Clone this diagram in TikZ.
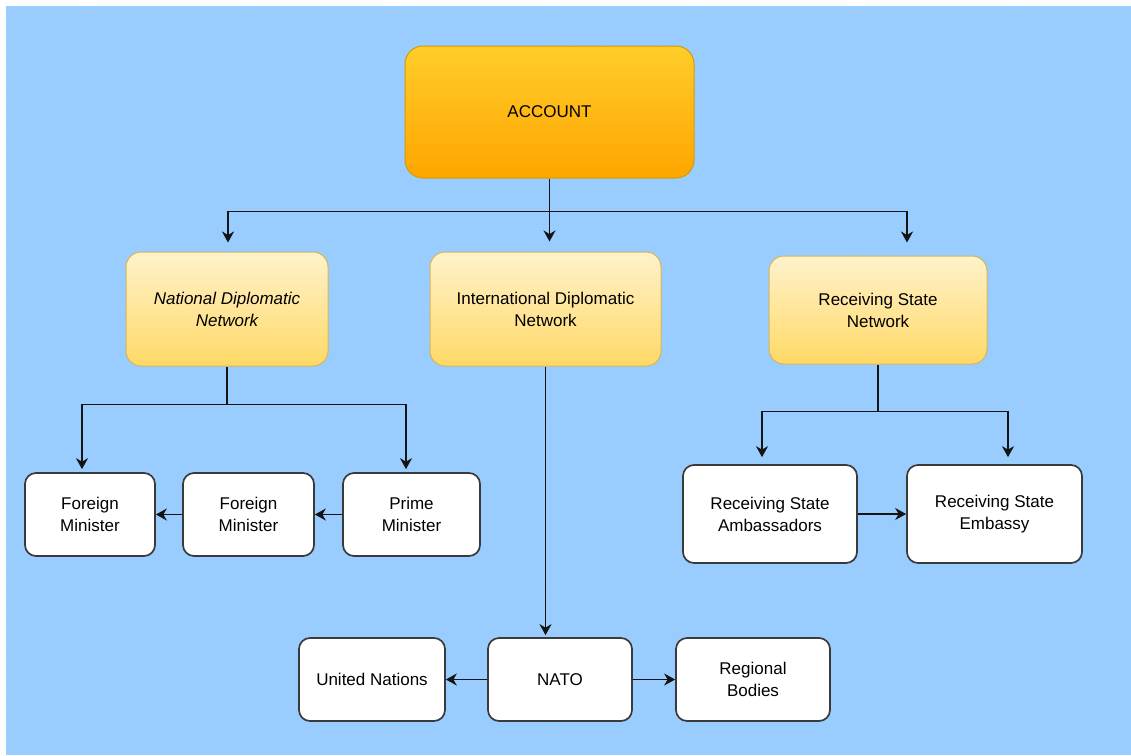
\documentclass[tikz,border=0pt]{standalone}
\usepackage{fontspec}
\setmainfont{Liberation Sans}
\usetikzlibrary{arrows.meta,calc}

\definecolor{canvas}{HTML}{99CCFF}
\definecolor{griddot}{HTML}{AEC6DF}
\definecolor{boxline}{HTML}{3A3A3A}
\definecolor{acctop}{HTML}{FFCD2A}
\definecolor{accbot}{HTML}{FFA500}
\definecolor{accline}{HTML}{D79B00}
\definecolor{nettop}{HTML}{FFF2CC}
\definecolor{netbot}{HTML}{FFD966}
\definecolor{netline}{HTML}{D6B656}
\definecolor{wire}{HTML}{141414}

\begin{document}
\begin{tikzpicture}[x=1pt,y=-1pt,
  every node/.style={font=\fontsize{17}{22}\selectfont, align=center, inner sep=0pt, text=black},
  rootbox/.style={draw=accline, line width=1pt, top color=acctop, bottom color=accbot,
    rounded corners=18pt, minimum width=289pt, minimum height=132pt},
  netbox/.style={draw=netline, line width=1pt, top color=nettop, bottom color=netbot,
    rounded corners=15pt},
  leaf/.style={draw=boxline, line width=1.7pt, fill=white, rounded corners=11pt},
  conn/.style={draw=wire, line width=1.7pt},
  arr/.style={conn, -{Stealth[length=11pt,width=12pt,inset=3.5pt]}}
]
\useasboundingbox (0,0) rectangle (1131,755);
\fill[white] (0,0) rectangle (1131,755);
\fill[canvas] (6,6) rectangle (1131,755);
% background dot grid
\foreach \i in {0,...,77}
  \foreach \j in {0,...,45}
    \fill[griddot] ({8.3+14.49*\i},{11+16.45*\j}) circle (0.8pt);

% top level
\node[rootbox] (account) at (549.5,112) {ACCOUNT};

% networks
\node[netbox, minimum width=202pt, minimum height=114pt] (nat) at (227,309)
  {\itshape National Diplomatic\\\itshape Network};
\node[netbox, minimum width=231pt, minimum height=114pt] (intl) at (545.5,309)
  {International Diplomatic\\Network};
\node[netbox, minimum width=218pt, minimum height=108pt] (rsn) at (878,310)
  {Receiving State\\Network};

% national branch
\node[leaf, minimum width=130pt, minimum height=83pt] (fm1) at (90,514.5) {Foreign\\Minister};
\node[leaf, minimum width=131pt, minimum height=83pt] (fm2) at (248.5,514.5) {Foreign\\Minister};
\node[leaf, minimum width=137pt, minimum height=83pt] (pm) at (411.5,514.5) {Prime\\Minister};

% receiving state branch
\node[leaf, minimum width=174pt, minimum height=98pt] (amb) at (770,514) {Receiving State\\Ambassadors};
\node[leaf, minimum width=175pt, minimum height=98pt] (emb) at (994.5,514) {Receiving State\\Embassy};

% international branch
\node[leaf, minimum width=146pt, minimum height=83pt] (un) at (372,679.5) {United Nations};
\node[leaf, minimum width=144pt, minimum height=83pt] (nato) at (560,679.5) {NATO};
\node[leaf, minimum width=154pt, minimum height=83pt] (reg) at (753,679.5) {Regional\\Bodies};

% account to networks
\coordinate (busA) at ([yshift=-33pt]account.south);
\draw[arr, shorten >=10pt] (account.south) -- (account.south |- intl.north);
\draw[arr, shorten >=9pt] (busA) -| ([xshift=1pt]nat.north);
\draw[arr, shorten >=13pt] (busA) -| ([xshift=29pt]rsn.north);

% national network to ministers
\coordinate (busN) at ([yshift=-38pt]nat.south);
\draw[conn] (nat.south) -- (busN);
\draw[arr, shorten >=3pt] (busN) -| ([xshift=-8pt]fm1.north);
\draw[arr, shorten >=3pt] (busN) -| ([xshift=-5.5pt]pm.north);
\draw[arr] (pm.west) -- (fm2.east);
\draw[arr] (fm2.west) -- (fm1.east);

% receiving state network
\coordinate (busR) at ([yshift=-47pt]rsn.south);
\draw[conn] (rsn.south) -- (busR);
\draw[arr, shorten >=7pt] (busR) -| ([xshift=-8pt]amb.north);
\draw[arr, shorten >=7pt] (busR) -| ([xshift=13.5pt]emb.north);
\draw[arr] (amb.east) -- (emb.west);

% international network
\draw[arr, shorten >=2pt] (intl.south) -- (intl.south |- nato.north);
\draw[arr] (nato.west) -- (un.east);
\draw[arr] (nato.east) -- (reg.west);
\end{tikzpicture}
\end{document}
